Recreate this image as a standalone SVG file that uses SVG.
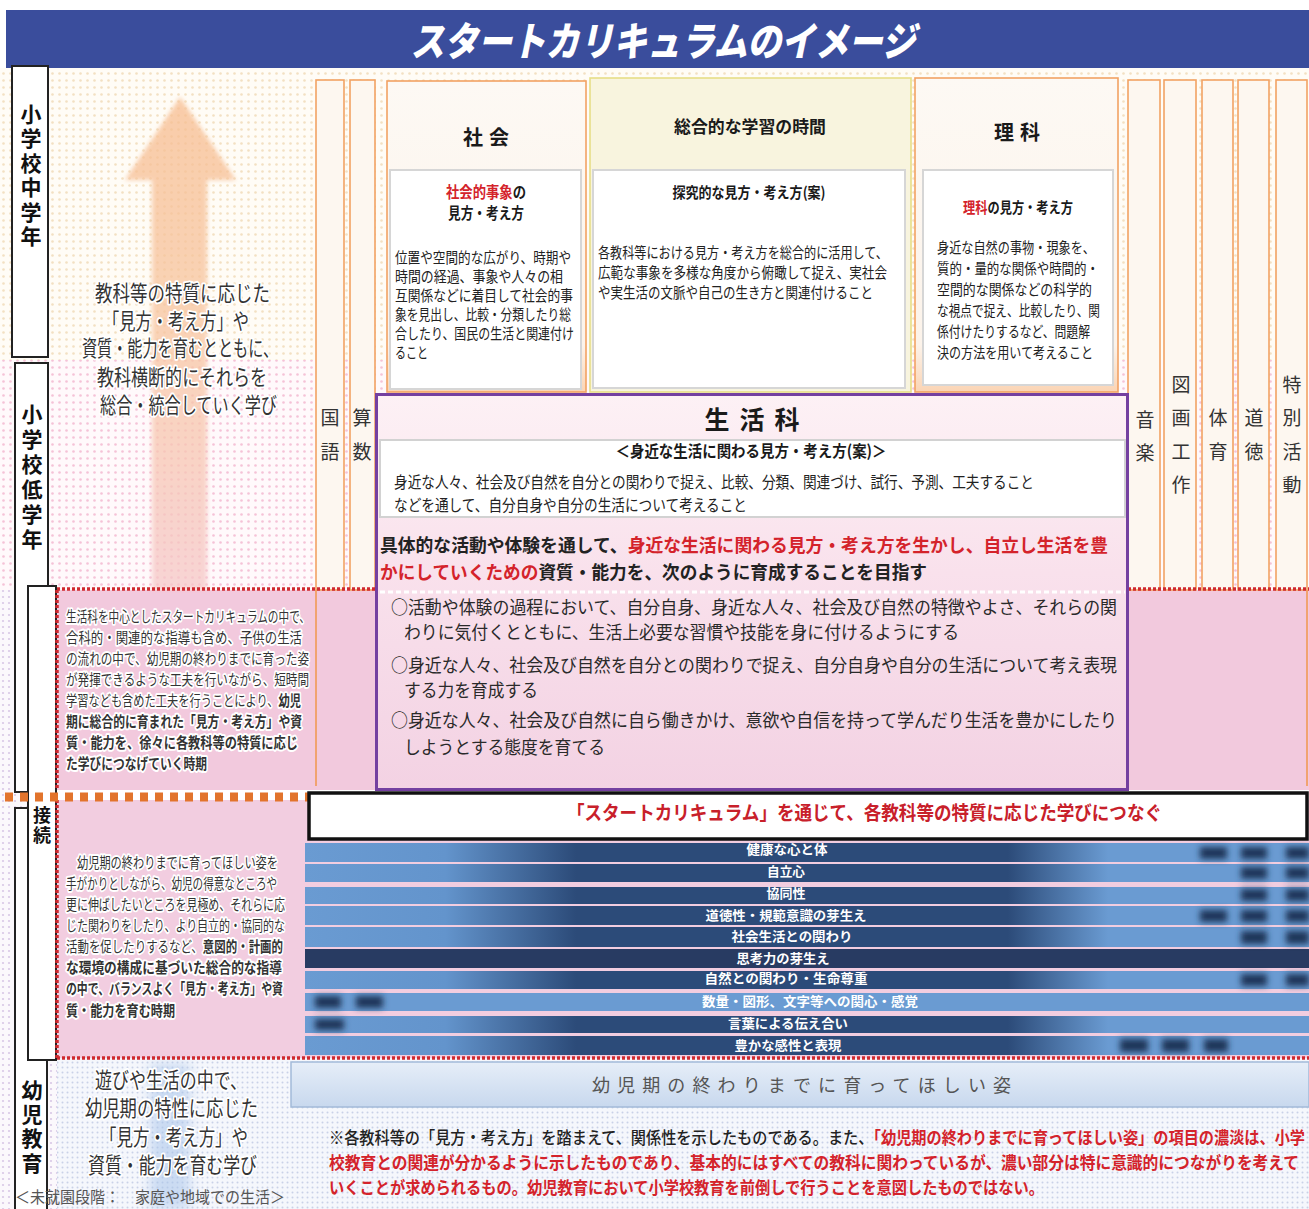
<svg xmlns="http://www.w3.org/2000/svg" width="1309" height="1209" viewBox="0 0 1309 1209">
<defs>
<style>
text{font-family:"Noto Sans CJK JP","Noto Sans CJK SC",sans-serif}
.lb{font-size:21px;font-weight:700;fill:#111;text-anchor:middle;writing-mode:vertical-rl}
.cl{font-size:19px;fill:#333;text-anchor:middle}
.hd{font-weight:700;fill:#1a1a1a;text-anchor:middle}
.bd{font-size:12.5px;fill:#222}
.rd{fill:#d4232b}
.bk{fill:#222}
.b{font-weight:700}
.gl{stroke:#fff;stroke-width:3px;paint-order:stroke;stroke-linejoin:round}
.br{font-size:13px;font-weight:700;fill:#fff;text-anchor:middle}
.col{fill:#fdf7f0;stroke:#f2a263;stroke-width:1.6}
.inner{fill:#fff;stroke:#d6d6d6;stroke-width:2}
.lbox{fill:#fff;stroke:#222;stroke-width:2}
.rdot{stroke:#cf2a2f;stroke-width:3.5;stroke-dasharray:3 2;fill:none}
.spot{fill:#1f3659}
</style>
<pattern id="pBeige" width="7" height="7" patternUnits="userSpaceOnUse"><rect width="7" height="7" fill="#fffcf6"/><circle cx="3.5" cy="3.5" r="1.3" fill="#f3e0c2"/></pattern>
<pattern id="pPink" width="7" height="7" patternUnits="userSpaceOnUse"><rect width="7" height="7" fill="#fff9fb"/><circle cx="3.5" cy="3.5" r="1.3" fill="#f5c2d7"/></pattern>
<pattern id="pBlue" width="5" height="5" patternUnits="userSpaceOnUse"><rect width="5" height="5" fill="#f5f7fc"/><circle cx="2.5" cy="2.5" r="1" fill="#c9d1e8"/></pattern>
<pattern id="pPurp" width="6" height="6" patternUnits="userSpaceOnUse"><rect width="6" height="6" fill="#fbf8fc"/><circle cx="3" cy="3" r="1.1" fill="#d9c8e6"/></pattern>
<linearGradient id="arrowG" x1="0" y1="0" x2="0" y2="1"><stop offset="0" stop-color="#f7bd90"/><stop offset="0.5" stop-color="#f8c6a2"/><stop offset="1" stop-color="#f6c8c8"/></linearGradient>
<linearGradient id="colG" x1="0" y1="0" x2="0" y2="1"><stop offset="0" stop-color="#fdf9f4"/><stop offset="0.85" stop-color="#fcf3ea"/><stop offset="1" stop-color="#fbd4b4"/></linearGradient>
<linearGradient id="pG" x1="0" y1="0" x2="0" y2="1"><stop offset="0" stop-color="#fdf1f5"/><stop offset="0.45" stop-color="#f9e1ec"/><stop offset="1" stop-color="#f3d2e3"/></linearGradient>
<linearGradient id="barG" gradientUnits="userSpaceOnUse" x1="305" y1="0" x2="1309" y2="0"><stop offset="0" stop-color="#6a9bd2"/><stop offset="0.14" stop-color="#6394cc"/><stop offset="0.27" stop-color="#2c4b79"/><stop offset="0.7" stop-color="#2c4b79"/><stop offset="0.8" stop-color="#6a9bd2"/><stop offset="1" stop-color="#6a9bd2"/></linearGradient>
<linearGradient id="blueBoxG" x1="0" y1="0" x2="0" y2="1"><stop offset="0" stop-color="#e6eef8"/><stop offset="1" stop-color="#c8d8ee"/></linearGradient>
<filter id="bl" x="-50%" y="-50%" width="200%" height="200%"><feGaussianBlur stdDeviation="3"/></filter>
<filter id="bl2" x="-50%" y="-50%" width="200%" height="200%"><feGaussianBlur stdDeviation="2"/></filter>
<filter id="bl6" x="-50%" y="-50%" width="200%" height="200%"><feGaussianBlur stdDeviation="6"/></filter>
</defs>

<rect x="0" y="0" width="1309" height="1209" fill="#fff"/>

<g id="background">
<rect x="0" y="68" width="1309" height="292" fill="url(#pBeige)"/>
<rect x="0" y="360" width="1309" height="230" fill="url(#pPink)"/>
<rect x="0" y="590" width="57" height="619" fill="url(#pPurp)"/>
<rect x="57" y="590" width="1252" height="200" fill="#f2c9dd"/>
<rect x="57" y="800" width="1252" height="258" fill="#f2cde0"/>
<rect x="57" y="1058" width="1252" height="151" fill="url(#pBlue)"/>
<rect x="150" y="1064" width="40" height="145" fill="#a9c5ea" opacity="0.55" filter="url(#bl6)"/>
</g>

<g id="connectors">
<polygon points="180,97 236,180 207,180 207,590 152,590 152,180 125,180" fill="url(#arrowG)" opacity="0.75" filter="url(#bl2)"/>
</g>

<g id="title">
<rect x="6" y="10" width="1303" height="58" fill="#3a4d9c"/>
<text x="663" y="56" text-anchor="middle" font-size="40" font-weight="900" font-style="italic" fill="#fff" textLength="505" lengthAdjust="spacingAndGlyphs">スタートカリキュラムのイメージ</text>
</g>

<g id="label-middle">
<rect class="lbox" x="12" y="66" width="36" height="291"/>
<text class="lb" x="31" y="177" letter-spacing="3.5">小学校中学年</text>
</g>
<g id="label-lower">
<rect class="lbox" x="15" y="363" width="33" height="429"/>
<text class="lb" x="32" y="479" letter-spacing="4">小学校低学年</text>
</g>
<g id="label-youji">
<rect class="lbox" x="15" y="808" width="32" height="410"/>
<text class="lb" x="32" y="1128" letter-spacing="3.3">幼児教育</text>
</g>
<g id="label-setsuzoku">
<rect class="lbox" x="28" y="586" width="28" height="474"/>
<text class="lb" x="42" y="826" letter-spacing="2" style="font-size:18px">接続</text>
</g>

<g id="text-upper" class="gl" fill="#333" font-size="17.5">
<text x="95" transform="matrix(1 0 0 1.25 0 301)" textLength="175" lengthAdjust="spacingAndGlyphs">教科等の特質に応じた</text>
<text x="103" transform="matrix(1 0 0 1.25 0 329)" textLength="146" lengthAdjust="spacingAndGlyphs">「見方・考え方」や</text>
<text x="82" transform="matrix(1 0 0 1.25 0 356)" textLength="196" lengthAdjust="spacingAndGlyphs">資質・能力を育むとともに、</text>
<text x="97" transform="matrix(1 0 0 1.25 0 385)" textLength="170" lengthAdjust="spacingAndGlyphs">教科横断的にそれらを</text>
<text x="100" transform="matrix(1 0 0 1.25 0 413)" textLength="177" lengthAdjust="spacingAndGlyphs">総合・統合していく学び</text>
</g>

<g id="col-kokugo"><rect class="col" x="316" y="80" width="28" height="510"/><text class="cl" x="330" y="425">国</text><text class="cl" x="330" y="459">語</text></g>
<g id="col-sansu"><rect class="col" x="350" y="80" width="25" height="510"/><text class="cl" x="362" y="425">算</text><text class="cl" x="362" y="459">数</text></g>
<g id="col-ongaku"><rect class="col" x="1128" y="80" width="32" height="510"/><text class="cl" x="1145" y="427">音</text><text class="cl" x="1145" y="460">楽</text></g>
<g id="col-zuga"><rect class="col" x="1164" y="80" width="32" height="510"/><text class="cl" x="1181" y="392">図</text><text class="cl" x="1181" y="425">画</text><text class="cl" x="1181" y="459">工</text><text class="cl" x="1181" y="492">作</text></g>
<g id="col-taiiku"><rect class="col" x="1202" y="80" width="31" height="510"/><text class="cl" x="1218" y="425">体</text><text class="cl" x="1218" y="459">育</text></g>
<g id="col-dotoku"><rect class="col" x="1238" y="80" width="31" height="510"/><text class="cl" x="1254" y="425">道</text><text class="cl" x="1254" y="459">徳</text></g>
<g id="col-tokkatsu"><rect class="col" x="1276" y="80" width="31" height="510"/><text class="cl" x="1292" y="392">特</text><text class="cl" x="1292" y="425">別</text><text class="cl" x="1292" y="459">活</text><text class="cl" x="1292" y="492">動</text></g>

<g id="col-shakai">
<rect x="387" y="81" width="199" height="311" fill="url(#colG)" stroke="#f2a263" stroke-width="1.6"/>
<text class="hd" x="489" y="145" font-size="20" letter-spacing="6">社会</text>
<rect class="inner" x="390" y="170" width="191" height="219"/>
<text class="hd" x="486" transform="matrix(1 0 0 1.15 0 198)" font-size="13.5" textLength="80" lengthAdjust="spacingAndGlyphs"><tspan class="rd">社会的事象</tspan>の</text>
<text class="hd" x="486" transform="matrix(1 0 0 1.15 0 219)" font-size="13.5" textLength="76" lengthAdjust="spacingAndGlyphs">見方・考え方</text>
<text class="bd" x="395" transform="matrix(1 0 0 1.22 0 263)" textLength="176" lengthAdjust="spacingAndGlyphs">位置や空間的な広がり、時期や</text>
<text class="bd" x="395" transform="matrix(1 0 0 1.22 0 282)" textLength="168" lengthAdjust="spacingAndGlyphs">時間の経過、事象や人々の相</text>
<text class="bd" x="395" transform="matrix(1 0 0 1.22 0 301)" textLength="178" lengthAdjust="spacingAndGlyphs">互関係などに着目して社会的事</text>
<text class="bd" x="395" transform="matrix(1 0 0 1.22 0 320)" textLength="176" lengthAdjust="spacingAndGlyphs">象を見出し、比較・分類したり総</text>
<text class="bd" x="395" transform="matrix(1 0 0 1.22 0 339)" textLength="179" lengthAdjust="spacingAndGlyphs">合したり、国民の生活と関連付け</text>
<text class="bd" x="395" transform="matrix(1 0 0 1.22 0 358)" textLength="33" lengthAdjust="spacingAndGlyphs">ること</text>
</g>

<g id="col-sogo">
<rect x="590" y="78" width="321" height="314" fill="#f8f4de" stroke="#e6de86" stroke-width="1.6"/>
<text class="hd" x="750" y="133" font-size="17" textLength="152" lengthAdjust="spacingAndGlyphs">総合的な学習の時間</text>
<rect class="inner" x="593" y="170" width="312" height="218"/>
<text class="hd" x="749" transform="matrix(1 0 0 1.12 0 198)" font-size="13.5" textLength="153" lengthAdjust="spacingAndGlyphs">探究的な見方・考え方(案)</text>
<text class="bd" x="598" transform="matrix(1 0 0 1.22 0 258)" textLength="290" lengthAdjust="spacingAndGlyphs">各教科等における見方・考え方を総合的に活用して、</text>
<text class="bd" x="598" transform="matrix(1 0 0 1.22 0 278)" textLength="289" lengthAdjust="spacingAndGlyphs">広範な事象を多様な角度から俯瞰して捉え、実社会</text>
<text class="bd" x="598" transform="matrix(1 0 0 1.22 0 298)" textLength="275" lengthAdjust="spacingAndGlyphs">や実生活の文脈や自己の生き方と関連付けること</text>
</g>

<g id="col-rika">
<rect x="915" y="78" width="203" height="314" fill="url(#colG)" stroke="#f2a263" stroke-width="1.6"/>
<text class="hd" x="1020" y="140" font-size="20" letter-spacing="6">理科</text>
<rect class="inner" x="923" y="170" width="190" height="215"/>
<text class="hd" x="1018" transform="matrix(1 0 0 1.15 0 213)" font-size="13" textLength="110" lengthAdjust="spacingAndGlyphs"><tspan class="rd">理科</tspan>の見方・考え方</text>
<text class="bd" x="937" transform="matrix(1 0 0 1.22 0 253)" textLength="158" lengthAdjust="spacingAndGlyphs">身近な自然の事物・現象を、</text>
<text class="bd" x="937" transform="matrix(1 0 0 1.22 0 274)" textLength="162" lengthAdjust="spacingAndGlyphs">質的・量的な関係や時間的・</text>
<text class="bd" x="937" transform="matrix(1 0 0 1.22 0 295)" textLength="155" lengthAdjust="spacingAndGlyphs">空間的な関係などの科学的</text>
<text class="bd" x="937" transform="matrix(1 0 0 1.22 0 316)" textLength="163" lengthAdjust="spacingAndGlyphs">な視点で捉え、比較したり、関</text>
<text class="bd" x="937" transform="matrix(1 0 0 1.22 0 337)" textLength="153" lengthAdjust="spacingAndGlyphs">係付けたりするなど、問題解</text>
<text class="bd" x="937" transform="matrix(1 0 0 1.22 0 358)" textLength="156" lengthAdjust="spacingAndGlyphs">決の方法を用いて考えること</text>
</g>

<g id="pink-lines">
<line x1="316" y1="590" x2="316" y2="786" stroke="#f09a55" stroke-width="1.6"/>
<line x1="1307" y1="590" x2="1307" y2="786" stroke="#f09a55" stroke-width="1.6"/>
<line class="rdot" x1="57" y1="589" x2="376" y2="589"/>
<line class="rdot" x1="1128" y1="589" x2="1309" y2="589"/>
<line class="rdot" x1="57" y1="590" x2="57" y2="790"/>
<line class="rdot" x1="57" y1="800" x2="57" y2="1058"/>
<line class="rdot" x1="57" y1="1058" x2="1309" y2="1058"/>
<line x1="5" y1="797" x2="310" y2="797" stroke="#e2742c" stroke-width="9" stroke-dasharray="8 7"/>
</g>

<g id="text-lower-grade" class="gl" fill="#333" font-size="11.5">
<text x="66" transform="matrix(1 0 0 1.3 0 622)" textLength="244" lengthAdjust="spacingAndGlyphs">生活科を中心としたスタートカリキュラムの中で、</text>
<text x="66" transform="matrix(1 0 0 1.3 0 643)" textLength="236" lengthAdjust="spacingAndGlyphs">合科的・関連的な指導も含め、子供の生活</text>
<text x="66" transform="matrix(1 0 0 1.3 0 664)" textLength="243" lengthAdjust="spacingAndGlyphs">の流れの中で、幼児期の終わりまでに育った姿</text>
<text x="66" transform="matrix(1 0 0 1.3 0 685)" textLength="243" lengthAdjust="spacingAndGlyphs">が発揮できるような工夫を行いながら、短時間</text>
<text x="66" transform="matrix(1 0 0 1.3 0 706)" textLength="235" lengthAdjust="spacingAndGlyphs">学習なども含めた工夫を行うことにより、<tspan class="b">幼児</tspan></text>
<text class="b" x="66" transform="matrix(1 0 0 1.3 0 727)" textLength="236" lengthAdjust="spacingAndGlyphs">期に総合的に育まれた「見方・考え方」や資</text>
<text class="b" x="66" transform="matrix(1 0 0 1.3 0 748)" textLength="232" lengthAdjust="spacingAndGlyphs">質・能力を、徐々に各教科等の特質に応じ</text>
<text class="b" x="66" transform="matrix(1 0 0 1.3 0 769)" textLength="141" lengthAdjust="spacingAndGlyphs">た学びにつなげていく時期</text>
</g>

<g id="seikatsuka">
<rect x="376.5" y="394.5" width="751" height="395" fill="url(#pG)" stroke="#7440a0" stroke-width="3"/>
<text class="hd" x="757" y="429" font-size="25" letter-spacing="10">生活科</text>
<rect x="380" y="440" width="745" height="77" fill="#fff" stroke="#d2d2d2" stroke-width="2"/>
<text class="hd" x="751" transform="matrix(1 0 0 1.15 0 457)" font-size="14" textLength="271" lengthAdjust="spacingAndGlyphs">＜身近な生活に関わる見方・考え方(案)＞</text>
<text x="394" transform="matrix(1 0 0 1.15 0 488)" font-size="13.8" fill="#222" textLength="640" lengthAdjust="spacingAndGlyphs">身近な人々、社会及び自然を自分との関わりで捉え、比較、分類、関連づけ、試行、予測、工夫すること</text>
<text x="394" transform="matrix(1 0 0 1.15 0 511)" font-size="13.8" fill="#222" textLength="353" lengthAdjust="spacingAndGlyphs">などを通して、自分自身や自分の生活について考えること</text>
<text x="380" y="552" font-size="18.5" font-weight="700" textLength="728" lengthAdjust="spacingAndGlyphs"><tspan class="bk">具体的な活動や体験を通して、</tspan><tspan class="rd">身近な生活に関わる見方・考え方を生かし、自立し生活を豊</tspan></text>
<text x="380" y="579" font-size="18.5" font-weight="700" textLength="547" lengthAdjust="spacingAndGlyphs"><tspan class="rd">かにしていくための</tspan><tspan class="bk">資質・能力を、次のように育成することを目指す</tspan></text>
<line x1="380" y1="592" x2="1125" y2="592" stroke="#fff" stroke-width="3" stroke-dasharray="5 3"/>
<g font-size="17" fill="#2a2a2a">
<text x="391" transform="matrix(1 0 0 1.06 0 614)" textLength="726" lengthAdjust="spacingAndGlyphs">○活動や体験の過程において、自分自身、身近な人々、社会及び自然の特徴やよさ、それらの関</text>
<text x="404" transform="matrix(1 0 0 1.06 0 639)" textLength="555" lengthAdjust="spacingAndGlyphs">わりに気付くとともに、生活上必要な習慣や技能を身に付けるようにする</text>
<text x="391" transform="matrix(1 0 0 1.06 0 672)" textLength="726" lengthAdjust="spacingAndGlyphs">○身近な人々、社会及び自然を自分との関わりで捉え、自分自身や自分の生活について考え表現</text>
<text x="404" transform="matrix(1 0 0 1.06 0 697)" textLength="134" lengthAdjust="spacingAndGlyphs">する力を育成する</text>
<text x="391" transform="matrix(1 0 0 1.06 0 727)" textLength="726" lengthAdjust="spacingAndGlyphs">○身近な人々、社会及び自然に自ら働きかけ、意欲や自信を持って学んだり生活を豊かにしたり</text>
<text x="404" transform="matrix(1 0 0 1.06 0 754)" textLength="201" lengthAdjust="spacingAndGlyphs">しようとする態度を育てる</text>
</g>
</g>

<g id="start-curriculum">
<rect x="309" y="793" width="998" height="46" fill="#fff" stroke="#111" stroke-width="3.5"/>
<text x="567" transform="matrix(1 0 0 1.12 0 820)" font-size="17.5" font-weight="700" fill="#c8202a" textLength="595" lengthAdjust="spacingAndGlyphs">「スタートカリキュラム」を通じて、各教科等の特質に応じた学びにつなぐ</text>
</g>

<g id="text-connection" class="gl" fill="#333" font-size="11.5">
<text x="77" transform="matrix(1 0 0 1.3 0 868)" textLength="201" lengthAdjust="spacingAndGlyphs">幼児期の終わりまでに育ってほしい姿を</text>
<text x="66" transform="matrix(1 0 0 1.3 0 889)" textLength="211" lengthAdjust="spacingAndGlyphs">手がかりとしながら、幼児の得意なところや</text>
<text x="66" transform="matrix(1 0 0 1.3 0 910)" textLength="219" lengthAdjust="spacingAndGlyphs">更に伸ばしたいところを見極め、それらに応</text>
<text x="66" transform="matrix(1 0 0 1.3 0 931)" textLength="219" lengthAdjust="spacingAndGlyphs">じた関わりをしたり、より自立的・協同的な</text>
<text x="66" transform="matrix(1 0 0 1.3 0 952)" textLength="217" lengthAdjust="spacingAndGlyphs">活動を促したりするなど、<tspan class="b">意図的・計画的</tspan></text>
<text class="b" x="66" transform="matrix(1 0 0 1.3 0 973)" textLength="216" lengthAdjust="spacingAndGlyphs">な環境の構成に基づいた総合的な指導</text>
<text class="b" x="66" transform="matrix(1 0 0 1.3 0 994)" textLength="217" lengthAdjust="spacingAndGlyphs">の中で、バランスよく「見方・考え方」や資</text>
<text class="b" x="66" transform="matrix(1 0 0 1.3 0 1016)" textLength="109" lengthAdjust="spacingAndGlyphs">質・能力を育む時期</text>
</g>

<g id="bars">
<rect x="305" y="843" width="1004" height="19" fill="url(#barG)"/>
<rect x="305" y="864" width="1004" height="18" fill="url(#barG)"/>
<rect x="305" y="887" width="1004" height="17" fill="url(#barG)"/>
<rect x="305" y="906" width="1004" height="19" fill="url(#barG)"/>
<rect x="305" y="927" width="1004" height="20" fill="url(#barG)"/>
<rect x="305" y="949" width="1004" height="19" fill="#283b62"/>
<rect x="305" y="971" width="1004" height="18" fill="url(#barG)"/>
<rect x="305" y="993" width="1004" height="18" fill="#6a9bd2"/>
<rect x="305" y="1016" width="1004" height="17" fill="url(#barG)"/>
<rect x="305" y="1036" width="1004" height="19" fill="url(#barG)"/>
<g filter="url(#bl)">
<rect class="spot" x="1200" y="847" width="27" height="12"/><rect class="spot" x="1241" y="847" width="26" height="12"/><rect class="spot" x="1286" y="847" width="23" height="12"/>
<rect class="spot" x="1241" y="867" width="26" height="12"/><rect class="spot" x="1286" y="867" width="23" height="12"/>
<rect class="spot" x="1241" y="889" width="26" height="12"/><rect class="spot" x="1286" y="889" width="23" height="12"/>
<rect class="spot" x="1200" y="910" width="27" height="12"/><rect class="spot" x="1241" y="910" width="26" height="12"/><rect class="spot" x="1286" y="910" width="23" height="12"/>
<rect class="spot" x="1241" y="931" width="26" height="13"/><rect class="spot" x="1286" y="931" width="23" height="13"/>
<rect class="spot" x="1241" y="974" width="26" height="12"/><rect class="spot" x="1286" y="974" width="23" height="12"/>
<rect class="spot" x="315" y="996" width="26" height="12"/><rect class="spot" x="356" y="996" width="27" height="12"/>
<rect class="spot" x="315" y="1019" width="29" height="11"/>
<rect class="spot" x="1120" y="1039" width="28" height="13"/><rect class="spot" x="1162" y="1039" width="27" height="13"/><rect class="spot" x="1204" y="1039" width="24" height="13"/>
</g>
<text class="br" x="787" y="854" textLength="81" lengthAdjust="spacingAndGlyphs">健康な心と体</text>
<text class="br" x="786" y="876" textLength="38" lengthAdjust="spacingAndGlyphs">自立心</text>
<text class="br" x="786" y="898" textLength="39" lengthAdjust="spacingAndGlyphs">協同性</text>
<text class="br" x="786" y="920" textLength="161" lengthAdjust="spacingAndGlyphs">道徳性・規範意識の芽生え</text>
<text class="br" x="792" y="941" textLength="121" lengthAdjust="spacingAndGlyphs">社会生活との関わり</text>
<text class="br" x="783" y="963" textLength="93" lengthAdjust="spacingAndGlyphs">思考力の芽生え</text>
<text class="br" x="786" y="983" textLength="163" lengthAdjust="spacingAndGlyphs">自然との関わり・生命尊重</text>
<text class="br" x="810" y="1006" textLength="216" lengthAdjust="spacingAndGlyphs">数量・図形、文字等への関心・感覚</text>
<text class="br" x="788" y="1028" textLength="120" lengthAdjust="spacingAndGlyphs">言葉による伝え合い</text>
<text class="br" x="788" y="1050" textLength="107" lengthAdjust="spacingAndGlyphs">豊かな感性と表現</text>
</g>

<g id="sugata">
<rect x="291" y="1062" width="1018" height="45" fill="url(#blueBoxG)" stroke="#a3bad9" stroke-width="1.5"/>
<text x="592" y="1092" font-size="18" fill="#555" textLength="419" lengthAdjust="spacing">幼児期の終わりまでに育ってほしい姿</text>
</g>

<g id="text-youji" class="gl" fill="#333" font-size="17.5">
<text x="95" transform="matrix(1 0 0 1.25 0 1088)" textLength="152" lengthAdjust="spacingAndGlyphs">遊びや生活の中で、</text>
<text x="85" transform="matrix(1 0 0 1.25 0 1116)" textLength="173" lengthAdjust="spacingAndGlyphs">幼児期の特性に応じた</text>
<text x="100" transform="matrix(1 0 0 1.25 0 1145)" textLength="148" lengthAdjust="spacingAndGlyphs">「見方・考え方」や</text>
<text x="88" transform="matrix(1 0 0 1.25 0 1173)" textLength="169" lengthAdjust="spacingAndGlyphs">資質・能力を育む学び</text>
</g>
<g id="mishuen">
<text x="15" transform="matrix(1 0 0 1.07 0 1203)" font-size="15" fill="#555" textLength="270" lengthAdjust="spacingAndGlyphs">＜未就園段階：　家庭や地域での生活＞</text>
</g>

<g id="note" font-weight="700">
<text x="329" transform="matrix(1 0 0 1.12 0 1144)" font-size="15" textLength="976" lengthAdjust="spacingAndGlyphs"><tspan fill="#222" font-weight="500">※各教科等の「見方・考え方」を踏まえて、関係性を示したものである。また、</tspan><tspan class="rd">「幼児期の終わりまでに育ってほしい姿」の項目の濃淡は、小学</tspan></text>
<text class="rd" x="329" transform="matrix(1 0 0 1.1 0 1169)" font-size="15.5" textLength="970" lengthAdjust="spacingAndGlyphs">校教育との関連が分かるように示したものであり、基本的にはすべての教科に関わっているが、濃い部分は特に意識的につながりを考えて</text>
<text class="rd" x="329" transform="matrix(1 0 0 1.12 0 1194)" font-size="15" textLength="715" lengthAdjust="spacingAndGlyphs">いくことが求められるもの。幼児教育において小学校教育を前倒しで行うことを意図したものではない。</text>
</g>
</svg>
